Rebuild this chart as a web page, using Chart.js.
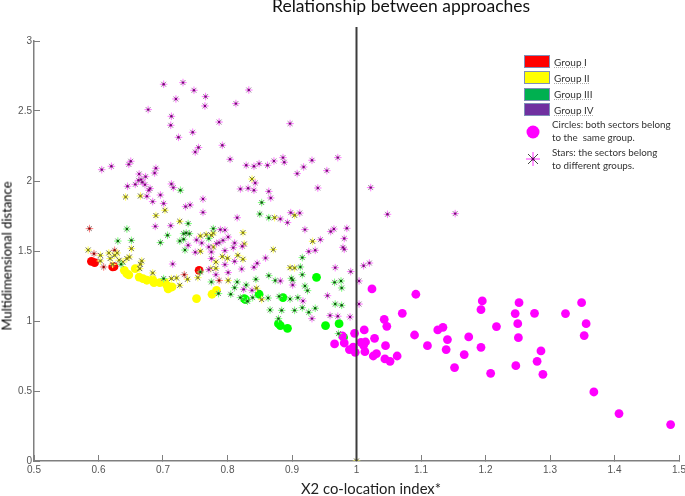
<!DOCTYPE html>
<html lang="en">
<head>
<meta charset="UTF-8">
<title>Relationship between approaches</title>
<script src="https://cdn.jsdelivr.net/npm/chart.js"></script>
<style>
    html, body { margin: 0; padding: 0; background: #fff; }
    #wrap { position: relative; width: 685px; height: 496px; overflow: hidden; font-family: Lato, sans-serif; color: #222; }
    #chart { position: absolute; left: 0; top: 0; }
    .label { position: absolute; white-space: nowrap; line-height: 1; }
    #mainTitle { left: 272px; top: -3px; font-size: 17.5px; color: #111; }
    #xTitle { left: 301px; top: 481px; font-size: 14.8px; }
    #yTitle { left: 7px; top: 256px; font-size: 13px; color: #000; transform: translate(-50%, -50%) rotate(-90deg); }
    .swatch { position: absolute; left: 524px; width: 24px; height: 11px; border: 1px solid #7f8fb8; }
    .legendText { left: 554px; font-size: 10px; color: #333; text-decoration: underline dotted #aaa; }
    .note { left: 552px; font-size: 9.8px; color: #333; }
</style>
</head>
<body>
<div id="wrap">
    <canvas id="chart" width="685" height="496"></canvas>
    <div class="label" id="mainTitle">Relationship between approaches</div>
    <div class="label" id="xTitle">X2 co-location index*</div>
    <div class="label" id="yTitle">Multidimensional distance</div>

    <div class="swatch" style="top:55px;background:#ff0000"></div>
    <div class="label legendText" style="top:57px">Group I</div>
    <div class="swatch" style="top:71px;background:#ffff00"></div>
    <div class="label legendText" style="top:73px">Group II</div>
    <div class="swatch" style="top:88px;background:#00b050"></div>
    <div class="label legendText" style="top:89px">Group III</div>
    <div class="swatch" style="top:103px;background:#7030a0"></div>
    <div class="label legendText" style="top:105px">Group IV</div>

    <svg style="position:absolute;left:525px;top:124px" width="16" height="16"><circle cx="8" cy="8" r="6.5" fill="#ff00ff"/></svg>
    <div class="label note" style="top:120px">Circles: both sectors belong</div>
    <div class="label note" style="top:133px">to the&nbsp; same group.</div>

    <svg style="position:absolute;left:525px;top:151px" width="16" height="16">
        <path d="M8 1V15M1 8H15" stroke="#ff33ff" stroke-width="1"/>
        <path d="M3 3L13 13M13 3L3 13" stroke="#444" stroke-width="1"/>
        <circle cx="8" cy="8" r="1.5" fill="#600060"/>
    </svg>
    <div class="label note" style="top:148px">Stars: the sectors belong</div>
    <div class="label note" style="top:161px">to different groups.</div>
</div>

<script>
    const xTicks = [0.5, 0.6, 0.7, 0.8, 0.9, 1, 1.1, 1.2, 1.3, 1.4, 1.5];
    const yTicks = [0, 0.5, 1, 1.5, 2, 2.5, 3];
    const refLine = [[1, 0], [1, 3.1]];

    // circles: both sectors in the same group
    const group1Circles = [[0.589,1.426],[0.594,1.417],[0.622,1.386],[0.624,1.388],[0.756,1.362]];
    const group2Circles = [[0.640,1.362],[0.644,1.338],[0.647,1.329],[0.657,1.374],[0.663,1.314],[0.669,1.303],
        [0.675,1.291],[0.684,1.296],[0.686,1.274],[0.695,1.274],[0.703,1.274],[0.706,1.255],[0.708,1.229],
        [0.714,1.243],[0.752,1.160],[0.776,1.191],[0.783,1.219]];
    const group3Circles = [[0.938,1.312],[0.826,1.160],[0.828,1.153],[0.849,1.191],[0.886,1.167],[0.879,0.981],
        [0.882,0.967],[0.893,0.948],[0.952,0.967],[0.973,0.981],[0.980,0.884]];
    const group4Circles = [[1.024,1.229],[1.092,1.191],[1.195,1.143],[1.193,1.081],[1.071,1.055],[1.043,1.012],
        [1.047,0.962],[1.217,0.960],[1.134,0.955],[1.126,0.936],[0.997,0.912],[1.012,0.936],[1.090,0.900],
        [1.028,0.876],[1.141,0.867],[1.174,0.886],[0.978,0.893],[0.966,0.836],[0.981,0.843],[1.007,0.848],
        [1.014,0.850],[1.011,0.826],[1.045,0.824],[1.110,0.824],[1.193,0.812],[1.139,0.796],[0.995,0.814],
        [0.989,0.796],[0.998,0.776],[1.013,0.781],[1.031,0.767],[1.026,0.750],[1.167,0.760],[1.063,0.750],
        [1.044,0.729],[1.052,0.712],[1.152,0.667],[1.208,0.626],[1.252,1.131],[1.349,1.131],[1.246,1.053],
        [1.276,1.055],[1.324,1.053],[1.250,0.981],[1.356,0.981],[1.353,0.896],[1.251,0.881],[1.286,0.786],
        [1.280,0.712],[1.247,0.681],[1.289,0.619],[1.368,0.493],[1.407,0.339],[1.487,0.260]];

    // stars: the sectors belong to different groups
    const group1Stars = [[0.586,1.660],[0.593,1.481],[0.608,1.386],[0.625,1.505],[0.733,1.331],[0.787,1.289]];
    const group2Stars = [[0.642,1.886],[0.665,1.893],[0.838,2.014],[0.873,1.738],[0.904,1.755],[0.932,1.569],
        [0.871,1.510],[0.897,1.381],[0.904,1.379],[0.801,1.289],[0.845,1.234],[0.853,1.153],[0.824,1.631],
        [0.826,1.550],[0.816,1.469],[0.824,1.441],[0.792,1.460],[0.800,1.448],[0.782,1.421],[0.782,1.376],
        [0.774,1.374],[0.778,1.529],[0.775,1.612],[0.689,1.753],[0.703,1.791],[0.726,1.712],[0.758,1.607],
        [0.767,1.617],[0.778,1.629],[0.758,1.498],[0.584,1.507],[0.603,1.469],[0.603,1.429],[0.616,1.486],
        [0.618,1.446],[0.629,1.486],[0.625,1.469],[0.622,1.405],[0.632,1.434],[0.638,1.421],[0.644,1.446],
        [0.648,1.457],[0.651,1.517],[0.667,1.429],[0.665,1.405],[0.664,1.374],[0.684,1.343],[0.713,1.303],
        [0.721,1.307],[0.726,1.255],[0.738,1.298],[0.754,1.310],[1.000,0.000]];
    const group3Stars = [[0.727,1.934],[0.853,1.846],[0.850,1.764],[0.864,1.738],[0.916,1.453],[0.913,1.386],
        [0.916,1.331],[0.864,1.324],[0.899,1.305],[0.901,1.291],[0.874,1.289],[0.844,1.298],[0.815,1.279],
        [0.829,1.257],[0.920,1.250],[0.924,1.217],[0.966,1.276],[0.976,1.286],[0.977,1.236],[0.811,1.238],
        [0.805,1.191],[0.820,1.167],[0.839,1.167],[0.831,1.141],[0.863,1.164],[0.880,1.176],[0.897,1.157],
        [0.909,1.167],[0.916,1.095],[0.936,1.091],[0.926,1.062],[0.904,1.076],[0.884,1.076],[0.866,1.079],
        [0.879,1.017],[0.967,1.121],[0.977,1.112],[0.972,0.910],[0.778,1.660],[0.707,1.612],[0.644,1.657],
        [0.630,1.571],[0.651,1.576],[0.696,1.560],[0.726,1.571],[0.732,1.624],[0.736,1.629],[0.741,1.624],
        [0.732,1.584],[0.734,1.507],[0.739,1.696],[0.771,1.589],[0.635,1.405],[0.701,1.303],[0.758,1.350],
        [0.775,1.279],[0.786,1.196]];
    const group4Stars = [[0.701,2.691],[0.731,2.703],[0.748,2.648],[0.766,2.603],[0.765,2.536],[0.720,2.586],
        [0.677,2.510],[0.713,2.462],[0.712,2.398],[0.787,2.421],[0.746,2.348],[0.724,2.312],[0.755,2.239],
        [0.750,2.207],[0.605,2.081],[0.620,2.105],[0.647,2.119],[0.650,2.141],[0.689,2.091],[0.687,2.057],
        [0.663,2.050],[0.673,2.031],[0.662,2.005],[0.666,2.010],[0.668,1.991],[0.657,1.976],[0.672,1.974],
        [0.645,1.962],[0.680,1.946],[0.678,1.934],[0.713,1.979],[0.716,1.953],[0.675,1.891],[0.762,1.871],
        [0.696,1.900],[0.833,2.650],[0.813,2.553],[0.897,2.410],[0.792,2.255],[0.804,2.155],[0.829,2.112],
        [0.841,2.105],[0.849,2.124],[0.862,2.112],[0.872,2.143],[0.886,2.167],[0.888,2.134],[0.931,2.148],
        [0.971,2.167],[0.918,2.100],[0.908,2.053],[0.954,2.074],[0.843,1.986],[0.820,1.943],[0.832,1.948],
        [0.841,1.934],[0.864,1.926],[0.867,1.879],[0.940,1.950],[1.022,1.953],[1.048,1.762],[1.153,1.767],
        [0.965,1.657],[0.960,1.639],[0.985,1.662],[0.981,1.589],[0.979,1.526],[0.981,1.512],[0.967,1.381],
        [0.991,1.353],[1.011,1.395],[1.020,1.414],[1.004,1.286],[0.882,1.729],[0.898,1.774],[0.912,1.771],
        [0.893,1.703],[0.815,1.738],[0.920,1.653],[0.944,1.581],[0.936,1.505],[0.926,1.496],[0.859,1.450],
        [0.846,1.412],[0.841,1.384],[0.882,1.286],[0.901,1.257],[0.825,1.226],[0.838,1.219],[0.955,1.181],
        [0.917,1.143],[0.931,1.017],[0.959,1.039],[0.971,1.034],[0.990,1.029],[1.004,1.121],[0.789,1.653],
        [0.796,1.650],[0.801,1.600],[0.793,1.576],[0.787,1.560],[0.811,1.557],[0.809,1.524],[0.823,1.534],
        [0.796,1.503],[0.811,1.426],[0.796,1.403],[0.822,1.371],[0.801,1.346],[0.775,1.446],[0.775,1.493],
        [0.684,1.853],[0.701,1.839],[0.735,1.817],[0.742,1.829],[0.762,1.776],[0.688,1.676],[0.712,1.681],
        [0.739,1.541],[0.752,1.579],[0.760,1.557],[0.771,1.529],[0.783,1.553],[0.750,1.491],[0.715,1.407],
        [0.771,1.367],[0.782,1.331]];

    const toPoints = rows => rows.map(r => ({ x: r[0], y: r[1] }));

    const circles = (rows, colour) => ({
        data: toPoints(rows), showLine: false, pointStyle: 'circle', pointRadius: 4.4,
        backgroundColor: colour, borderColor: colour, borderWidth: 0
    });

    // a star is a dark dot on a grey x, over a coloured + and a pale square
    const stars = (rows, colour, dark, pale, grey) => [
        { data: toPoints(rows), showLine: false, pointStyle: 'circle', pointRadius: 1.2,
          backgroundColor: dark, borderWidth: 0 },
        { data: toPoints(rows), showLine: false, pointStyle: 'crossRot', pointRadius: 3.5,
          borderColor: grey, pointBorderWidth: 1, backgroundColor: 'transparent' },
        { data: toPoints(rows), showLine: false, pointStyle: 'cross', pointRadius: 3.8,
          borderColor: colour, pointBorderWidth: 1, backgroundColor: 'transparent' },
        { data: toPoints(rows), showLine: false, pointStyle: 'rect', pointRadius: 3.4,
          backgroundColor: pale, borderWidth: 0 }
    ];

    // first dataset ends up on top
    const datasets = [
        { data: toPoints(refLine), showLine: true, pointRadius: 0, borderColor: '#3c3c3c', borderWidth: 2, clip: false },
        ...stars(group4Stars, '#ff80ff', '#800080', 'rgba(255,0,255,0.16)', '#999'),
        ...stars(group3Stars, '#80ff80', '#006000', 'rgba(0,255,0,0.16)', '#888'),
        ...stars(group2Stars, '#ffff66', '#8a8a00', 'rgba(255,255,0,0.25)', '#666'),
        ...stars(group1Stars, '#ff8080', '#900000', 'rgba(255,0,0,0.16)', '#999'),
        circles(group4Circles, '#ff00ff'),
        circles(group2Circles, '#ffff00'),
        circles(group1Circles, '#ff0000'),
        circles(group3Circles, '#00ff00')
    ];

    new Chart(document.getElementById('chart'), {
        type: 'scatter',
        data: { datasets },
        options: {
            responsive: false,
            animation: false,
            layout: { padding: { top: 41, right: 6 } },
            plugins: { legend: { display: false }, tooltip: { enabled: false } },
            scales: {
                x: {
                    type: 'linear', min: 0.5, max: 1.5,
                    afterBuildTicks: s => { s.ticks = xTicks.map(v => ({ value: v })); },
                    afterFit: s => { s.height = 35; s.paddingLeft = 0; s.paddingRight = 0; },
                    border: { color: '#7f7f7f', width: 1.5 },
                    grid: { drawOnChartArea: false, tickLength: -6, tickColor: '#7f7f7f' },
                    ticks: { padding: 9, maxRotation: 0, color: '#555', font: { family: 'Liberation Sans', size: 10 }, callback: v => String(v) }
                },
                y: {
                    type: 'linear', min: 0, max: 3,
                    afterBuildTicks: s => { s.ticks = yTicks.map(v => ({ value: v })); },
                    afterFit: s => { s.width = 34; s.paddingTop = 0; s.paddingBottom = 0; },
                    border: { color: '#7f7f7f', width: 1.5 },
                    grid: { drawOnChartArea: false, tickLength: -6, tickColor: '#7f7f7f' },
                    ticks: { padding: 8, color: '#555', font: { family: 'Liberation Sans', size: 10 }, callback: v => String(v) }
                }
            }
        }
    });
</script>
</body>
</html>
